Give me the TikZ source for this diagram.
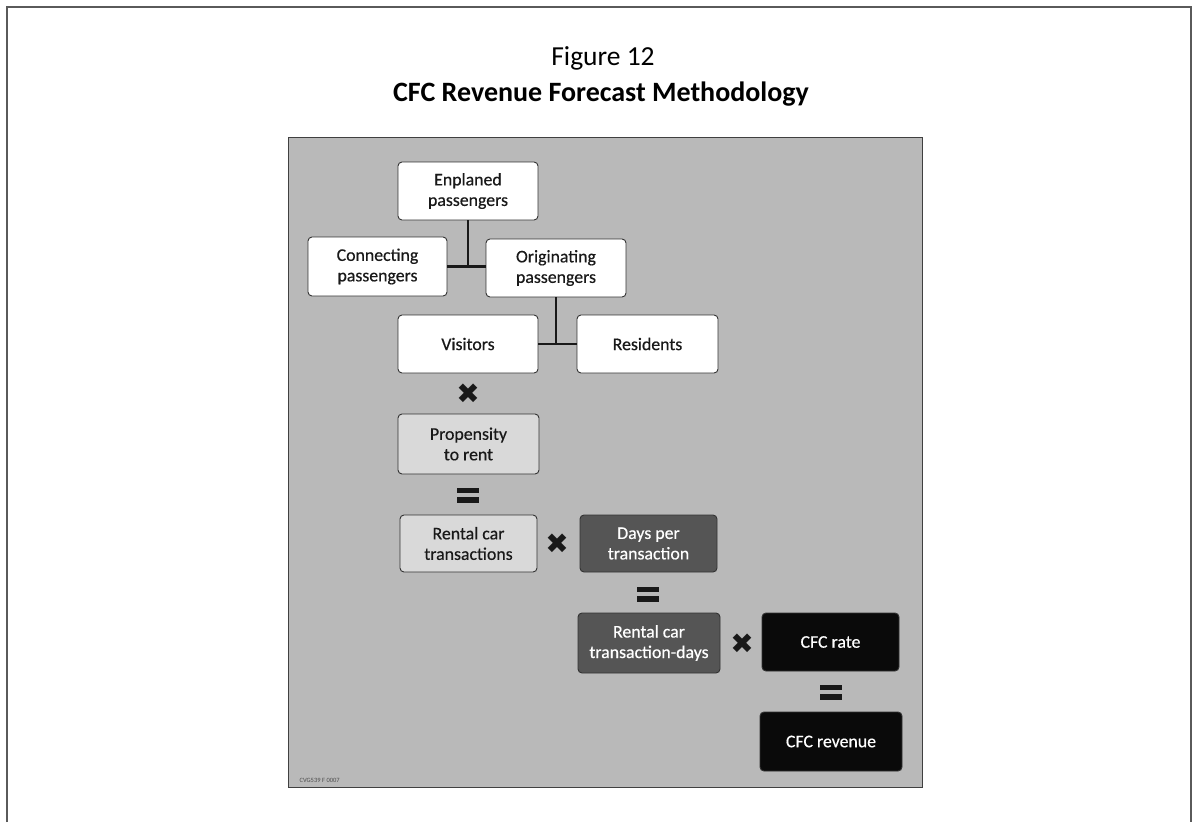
\documentclass[tikz,border=0pt]{standalone}
\usepackage{fontspec}
\setmainfont{Carlito}
\newfontfamily\boxfont{Carlito}[FakeBold=0.45]
\newfontfamily\dejavu{DejaVu Sans}
\definecolor{panelgrey}{HTML}{B9B9B9}
\definecolor{lightbox}{HTML}{D9D9D9}
\definecolor{midbox}{HTML}{555555}
\definecolor{darkbox}{HTML}{0A0A0A}
\definecolor{framegrey}{HTML}{5A5A5A}
\begin{document}
\begin{tikzpicture}[x=1pt,y=-1pt,
  box/.style={draw=black!80,line width=0.9pt,rounded corners=4pt,align=center,
    font=\boxfont\fontsize{17.8}{20.5}\selectfont,inner sep=0pt},
  whitebox/.style={box,fill=white,text=black!90},
  lightgbox/.style={box,fill=lightbox,text=black!90},
  midgbox/.style={box,fill=midbox,text=white},
  blackbox/.style={box,fill=darkbox,text=white},
  conn/.style={line width=2.2pt,black!90},
  opx/.style={font=\dejavu\fontsize{28}{28}\selectfont,inner sep=0pt,text=black!90},
  opeq/.style={minimum width=22pt,minimum height=16pt,inner sep=0pt,
    path picture={\fill[black!90] ([yshift=-0.5pt]path picture bounding box.north west) rectangle ([yshift=-6pt]path picture bounding box.north east);
                  \fill[black!90] ([yshift=0.5pt]path picture bounding box.south west) rectangle ([yshift=6pt]path picture bounding box.south east);}}
]
\useasboundingbox (0,0) rectangle (1194,822);
\fill[white] (0,0) rectangle (1194,822);
% outer frame
\draw[framegrey,line width=1.5pt] (7,822) -- (7,7) -- (1191,7) -- (1191,822);
% title
\node[font=\fontsize{27.5}{30}\selectfont,anchor=base] (fig) at (603,65) {Figure 12};
\node[font=\bfseries\fontsize{28}{30}\selectfont,anchor=base] (title) at (601,101) {CFC Revenue Forecast Methodology};
% panel
\draw[fill=panelgrey,draw=black!75,line width=1pt] (288,137) rectangle (922,787);
\node[anchor=west,font=\fontsize{6.5}{7}\selectfont,text=black!70] (code) at (296,780) {CVG539 F 0007};
% boxes
\node[whitebox,minimum width=140pt,minimum height=58pt] (enp) at (468,191) {Enplaned\\passengers};
\node[whitebox,minimum width=139pt,minimum height=59pt] (con) at (377.5,266.5) {Connecting\\passengers};
\node[whitebox,minimum width=140pt,minimum height=58pt] (ori) at (556,268) {Originating\\passengers};
\node[whitebox,minimum width=140pt,minimum height=58pt] (vis) at (468,344) {Visitors};
\node[whitebox,minimum width=141pt,minimum height=58pt] (res) at (647.5,344) {Residents};
\node[lightgbox,minimum width=141pt,minimum height=60pt] (pro) at (468.5,444) {Propensity\\to rent};
\node[lightgbox,minimum width=137pt,minimum height=57pt] (rct) at (468.5,543.5) {Rental car\\transactions};
\node[midgbox,minimum width=137pt,minimum height=57pt] (dpt) at (648.5,543.5) {Days per\\transaction};
\node[midgbox,minimum width=142pt,minimum height=60pt] (rctd) at (649,643) {Rental car\\transaction-days};
\node[blackbox,minimum width=137pt,minimum height=58pt] (rate) at (830.5,642) {CFC rate};
\node[blackbox,minimum width=142pt,minimum height=59pt] (rev) at (831,741.5) {CFC revenue};
% connectors
\coordinate (j1) at (enp.south |- con.east);
\coordinate (j2) at (ori.south |- vis.east);
\draw[conn] (enp.south) -- (j1);
\draw[conn] (con.east) -- (ori.west |- con.east);
\draw[conn] (ori.south) -- (j2);
\draw[conn] (vis.east) -- (res.west);
% operators
\node[opx] (x1) at (468,394) {✖};
\node[opx] (x2) at (557,544) {✖};
\node[opx] (x3) at (742,644) {✖};
\node[opeq] (e1) at (468,495) {};
\node[opeq] (e2) at (648,594) {};
\node[opeq] (e3) at (831,692) {};
\end{tikzpicture}
\end{document}
